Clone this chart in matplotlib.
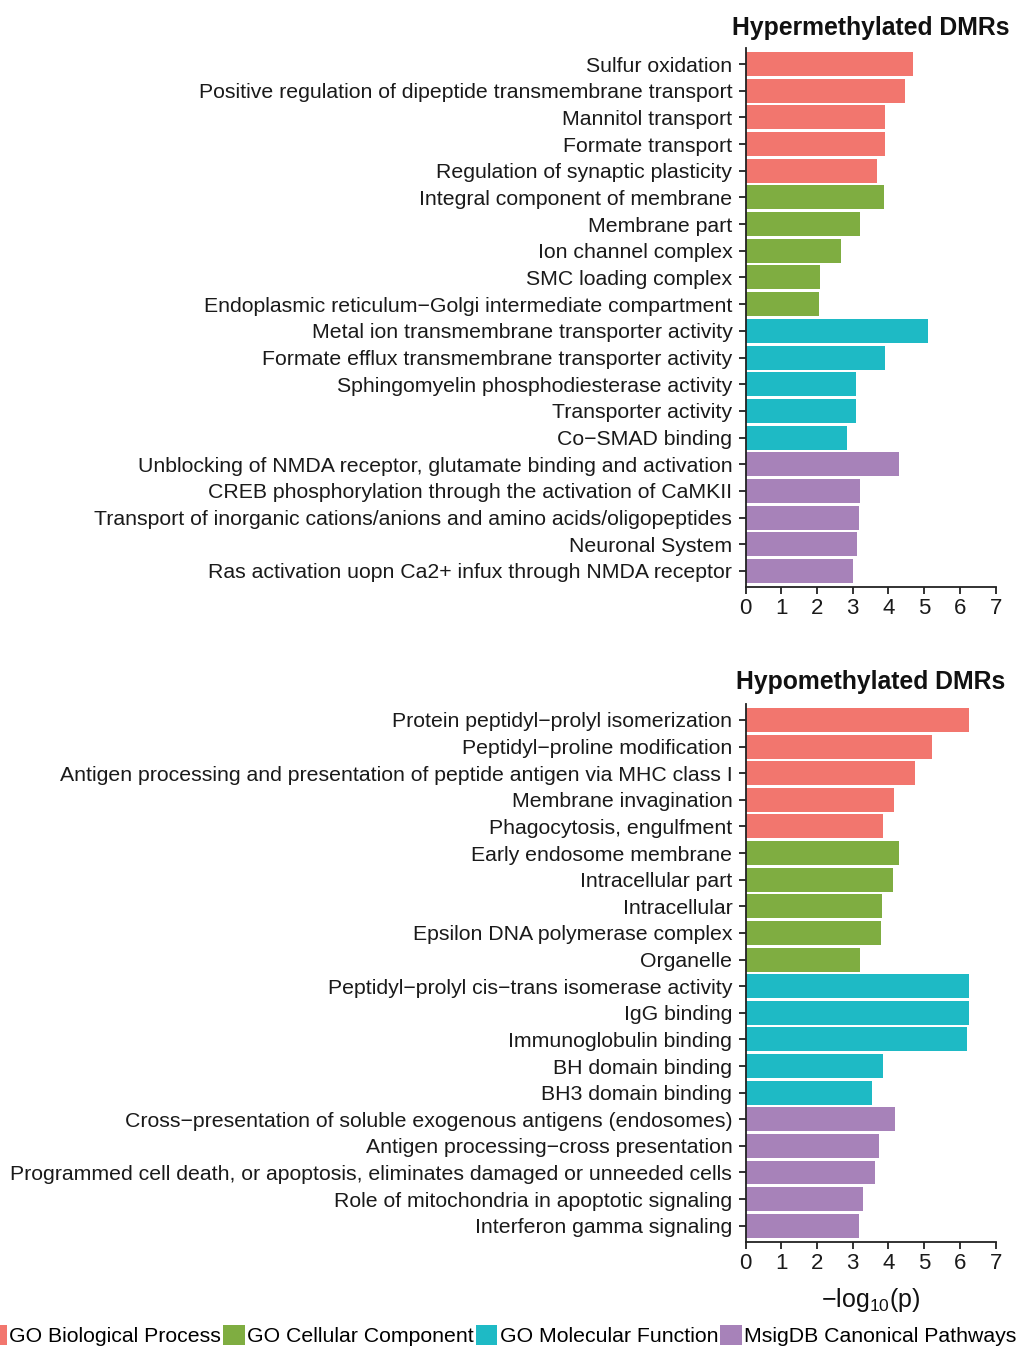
import matplotlib
matplotlib.use("Agg")
import matplotlib.pyplot as plt
from matplotlib.patches import Patch

plt.rcParams['font.family'] = ['Liberation Sans', 'DejaVu Sans']
plt.rcParams['mathtext.default'] = 'regular'

# ---------------- data ----------------
hyper_terms = [
    "Sulfur oxidation",
    "Positive regulation of dipeptide transmembrane transport",
    "Mannitol transport",
    "Formate transport",
    "Regulation of synaptic plasticity",
    "Integral component of membrane",
    "Membrane part",
    "Ion channel complex",
    "SMC loading complex",
    "Endoplasmic reticulum\u2212Golgi intermediate compartment",
    "Metal ion transmembrane transporter activity",
    "Formate efflux transmembrane transporter activity",
    "Sphingomyelin phosphodiesterase activity",
    "Transporter activity",
    "Co\u2212SMAD binding",
    "Unblocking of NMDA receptor, glutamate binding and activation",
    "CREB phosphorylation through the activation of CaMKII",
    "Transport of inorganic cations/anions and amino acids/oligopeptides",
    "Neuronal System",
    "Ras activation uopn Ca2+ infux through NMDA receptor",
]
hyper_values = [4.68, 4.46, 3.90, 3.90, 3.69, 3.87, 3.20, 2.67, 2.08, 2.05,
                5.10, 3.90, 3.09, 3.09, 2.84, 4.29, 3.20, 3.17, 3.11, 3.00]
hyper_cats = ["BP"] * 5 + ["CC"] * 5 + ["MF"] * 5 + ["MSig"] * 5

hypo_terms = [
    "Protein peptidyl\u2212prolyl isomerization",
    "Peptidyl\u2212proline modification",
    "Antigen processing and presentation of peptide antigen via MHC class I",
    "Membrane invagination",
    "Phagocytosis, engulfment",
    "Early endosome membrane",
    "Intracellular part",
    "Intracellular",
    "Epsilon DNA polymerase complex",
    "Organelle",
    "Peptidyl\u2212prolyl cis\u2212trans isomerase activity",
    "IgG binding",
    "Immunoglobulin binding",
    "BH domain binding",
    "BH3 domain binding",
    "Cross\u2212presentation of soluble exogenous antigens (endosomes)",
    "Antigen processing\u2212cross presentation",
    "Programmed cell death, or apoptosis, eliminates damaged or unneeded cells",
    "Role of mitochondria in apoptotic signaling",
    "Interferon gamma signaling",
]
hypo_values = [6.25, 5.21, 4.74, 4.15, 3.84, 4.29, 4.12, 3.82, 3.79, 3.20,
               6.25, 6.25, 6.19, 3.84, 3.54, 4.18, 3.73, 3.62, 3.28, 3.17]
hypo_cats = ["BP"] * 5 + ["CC"] * 5 + ["MF"] * 5 + ["MSig"] * 5

cat_keys = ["BP", "CC", "MF", "MSig"]
cat_labels = ["GO Biological Process", "GO Cellular Component",
              "GO Molecular Function", "MsigDB Canonical Pathways"]
cat_colors = ["#F2766E", "#7FAD41", "#1EBAC5", "#A782B9"]
xticks = [0, 1, 2, 3, 4, 5, 6, 7]

color_map = dict(zip(cat_keys, cat_colors))

W, H = 1017, 1346
fig = plt.figure(figsize=(W / 100, H / 100), dpi=100)

LABEL_FS = 15.3
TICK_FS = 16


def panel(rect, terms, values, cats, title, title_xy):
    ax = fig.add_axes(rect)
    ypos = list(range(len(terms)))
    ax.barh(ypos, values, height=0.9, color=[color_map[c] for c in cats],
            linewidth=0)
    ax.set_ylim(len(terms) - 0.4, -0.6)
    ax.set_xlim(0, 7)
    ax.set_yticks(ypos)
    ax.set_yticklabels(terms, fontsize=LABEL_FS, color="#1a1a1a")
    ax.set_xticks(xticks)
    ax.set_xticklabels([str(t) for t in xticks], fontsize=TICK_FS, color="#1a1a1a")
    for s in ("top", "right"):
        ax.spines[s].set_visible(False)
    for s in ("left", "bottom"):
        ax.spines[s].set_linewidth(1.3)
        ax.spines[s].set_color("#222222")
    ax.tick_params(axis="both", length=5, width=1.3, color="#222222", pad=3)
    ax.tick_params(axis="y", pad=4.5)
    fig.text(title_xy[0] / W, 1 - title_xy[1] / H, title, ha="right",
             va="center", fontsize=17.8, fontweight="bold", color="#111111")
    return ax


ax1 = panel([745.5 / W, 1 - 587 / H, 250.2 / W, 539 / H],
            hyper_terms, hyper_values, hyper_cats,
            "Hypermethylated DMRs", (1009, 28))
ax2 = panel([745.5 / W, 1 - 1241.7 / H, 250.2 / W, 537.7 / H],
            hypo_terms, hypo_values, hypo_cats,
            "Hypomethylated DMRs", (1005, 682))

fig.text(870.6 / W, 1 - 1300 / H, "\u2212log$_{10}$(p)", ha="center",
         va="center", fontsize=18, color="#111111")

handles = [Patch(facecolor=c, edgecolor="none", label=l)
           for c, l in zip(cat_colors, cat_labels)]
fig.legend(handles=handles, ncol=4, loc="center",
           bbox_to_anchor=(501 / W, 1 - 1335.5 / H), frameon=False,
           fontsize=LABEL_FS, handlelength=1.0, handleheight=1.05,
           handletextpad=0.12, columnspacing=0.1, borderpad=0,
           borderaxespad=0)

fig.savefig("out.png", dpi=100)
